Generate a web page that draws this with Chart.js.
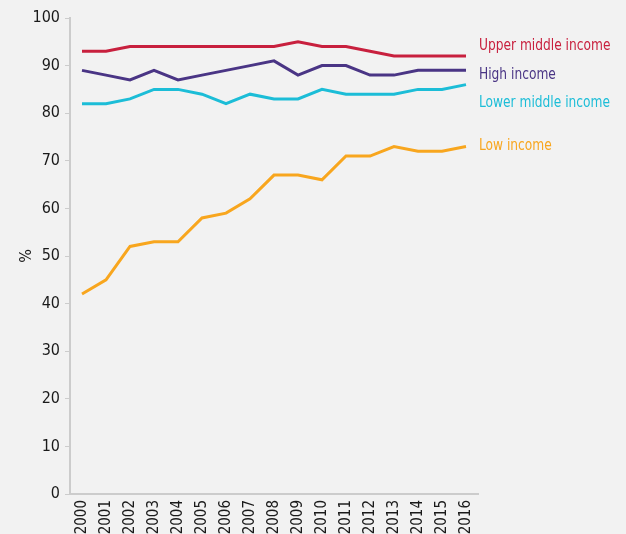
<!DOCTYPE html>
<html>
<head>
<meta charset="utf-8">
<title>Share by income group, 2000–2016</title>
<script src="https://cdn.jsdelivr.net/npm/chart.js@4.4.0/dist/chart.umd.min.js"></script>
<style>
  html, body { margin: 0; padding: 0; background: #f2f2f2; }
  #wrap { width: 626px; height: 534px; }
</style>
</head>
<body>
<div id="wrap"><canvas id="income-chart" width="626" height="534"></canvas></div>
<script>
const years = ["2000", "2001", "2002", "2003", "2004", "2005", "2006", "2007", "2008",
  "2009", "2010", "2011", "2012", "2013", "2014", "2015", "2016"];

const upperMiddle = [93, 93, 94, 94, 94, 94, 94, 94, 94, 95, 94, 94, 93, 92, 92, 92, 92];
const highIncome  = [89, 88, 87, 89, 87, 88, 89, 90, 91, 88, 90, 90, 88, 88, 89, 89, 89];
const lowerMiddle = [82, 82, 83, 85, 85, 84, 82, 84, 83, 83, 85, 84, 84, 84, 85, 85, 86];
const lowIncome   = [42, 45, 52, 53, 53, 58, 59, 62, 67, 67, 66, 71, 71, 73, 72, 72, 73];

const yTicks = [0, 10, 20, 30, 40, 50, 60, 70, 80, 90, 100];

const fontFamily = "'DejaVu Sans Condensed', 'Liberation Sans Narrow', 'Noto Sans', sans-serif";
const axisColor = "#cccccc";
const textColor = "#1a1a1a";

// Series names written at the right end of each line, squeezed a bit sideways
const endLabels = {
  id: "endLabels",
  afterDatasetsDraw(chart) {
    const ctx = chart.ctx;
    chart.data.datasets.forEach((ds, i) => {
      const meta = chart.getDatasetMeta(i);
      const last = meta.data[meta.data.length - 1];
      ctx.save();
      ctx.translate(last.x + 13, last.y + ds.labelShift);
      ctx.scale(0.85, 1);
      ctx.font = "16px " + fontFamily;
      ctx.fillStyle = ds.borderColor;
      ctx.textBaseline = "middle";
      ctx.fillText(ds.label, 0, 0);
      ctx.restore();
    });
  }
};

function series(label, values, color, shift) {
  return {
    label: label,
    data: values,
    borderColor: color,
    backgroundColor: color,
    borderWidth: 3,
    pointRadius: 0,
    tension: 0,
    labelShift: shift
  };
}

new Chart(document.getElementById("income-chart"), {
  type: "line",
  data: {
    labels: years,
    datasets: [
      series("Upper middle income", upperMiddle, "#c8203e", -10),
      series("High income", highIncome, "#4a3585", 4),
      series("Lower middle income", lowerMiddle, "#1cbdd7", 18),
      series("Low income", lowIncome, "#f8a61e", -1)
    ]
  },
  options: {
    responsive: false,
    animation: false,
    layout: { padding: { top: 18, right: 148, bottom: 0, left: 0 } },
    plugins: {
      legend: { display: false },
      tooltip: { enabled: false }
    },
    scales: {
      x: {
        offset: true,
        afterFit(scale) { scale.height = 40; },
        grid: { display: false, drawTicks: false },
        border: { display: true, color: axisColor, width: 2 },
        ticks: {
          color: textColor,
          font: { family: fontFamily, size: 15 },
          minRotation: 90,
          maxRotation: 90,
          autoSkip: false,
          padding: 6
        }
      },
      y: {
        min: 0,
        max: 100,
        afterFit(scale) { scale.width = 70; },
        afterBuildTicks(scale) { scale.ticks = yTicks.map(v => ({ value: v })); },
        grid: { drawOnChartArea: false, color: axisColor, tickLength: 5, lineWidth: 1 },
        border: { display: true, color: axisColor, width: 2 },
        title: {
          display: true,
          text: "%",
          color: textColor,
          font: { family: fontFamily, size: 16 },
          padding: { top: 17, bottom: 0 }
        },
        ticks: {
          color: textColor,
          font: { family: fontFamily, size: 16 },
          padding: 5
        }
      }
    }
  },
  plugins: [endLabels]
});
</script>
</body>
</html>
